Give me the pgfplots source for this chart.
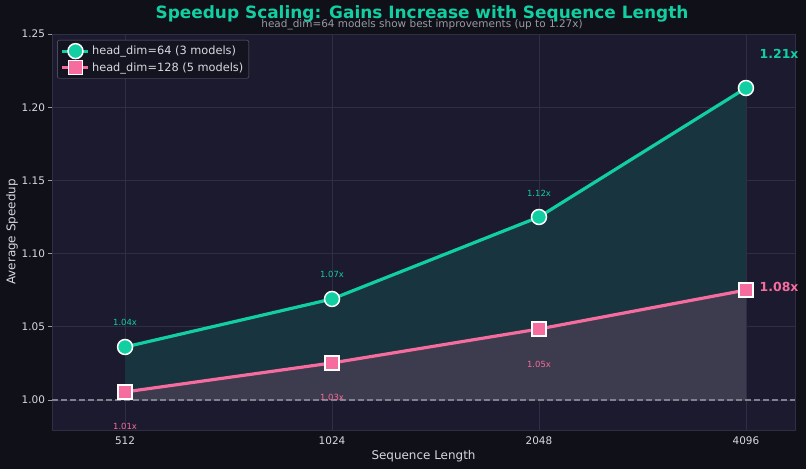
\documentclass[border=0pt]{standalone}
\usepackage{pgfplots}
\pgfplotsset{compat=1.18}
\usepackage{fontspec}
\setmainfont{DejaVu Sans}
\definecolor{figbg}{HTML}{101018}
\definecolor{axbg}{HTML}{1B1A2E}
\definecolor{gridc}{HTML}{2E2E44}
\definecolor{teal}{HTML}{12CFA3}
\definecolor{pinkc}{HTML}{F76C9E}
\definecolor{fillA}{HTML}{17343F}
\definecolor{fillB}{HTML}{3C3C4E}
\definecolor{txt}{HTML}{D8D8E0}
\definecolor{subc}{HTML}{9A9AA6}
\begin{document}
\begin{tikzpicture}
\fill[figbg] (0bp,0bp) rectangle (806bp,469bp);
\node[font=\bfseries\fontsize{17}{20}\selectfont, text=teal, anchor=base] at (422bp,450bp) {Speedup Scaling: Gains Increase with Sequence Length};
\node[font=\fontsize{10.5}{12}\selectfont, text=subc, anchor=base] at (422bp,441bp) {head\_dim=64 models show best improvements (up to 1.27x)};
\begin{axis}[
  at={(52bp,39bp)}, anchor=south west,
  scale only axis, width=743bp, height=396bp,
  xmin=-0.353, xmax=3.237, ymin=0.9795, ymax=1.25,
  axis background/.style={fill=axbg},
  axis line style={draw=gridc, line width=0.6pt},
  xtick={0,1,2,3}, xticklabels={512,1024,2048,4096},
  ytick={1.00,1.05,1.10,1.15,1.20,1.25},
  ytick pos=left,
  yticklabel style={/pgf/number format/.cd, fixed, fixed zerofill, precision=2},
  /pgf/number format/assume math mode=true,
  tick label style={font=\fontsize{10.5}{12}\selectfont, text=txt},
  tick style={draw=subc, line width=0.6pt},
  tick align=outside, major tick length=3.5bp,
  xtick style={draw=none},
  grid=major, major grid style={draw=gridc, line width=0.6pt},
  xlabel={Sequence Length}, ylabel={Average Speedup},
  label style={font=\fontsize{12}{14}\selectfont, text=txt},
  xlabel style={yshift=1bp},
  ylabel style={yshift=-3bp},
  legend style={at={(0.007,0.985)}, anchor=north west, fill=figbg!60!axbg, draw=subc!60!axbg, rounded corners=2pt, text=txt, font=\fontsize{11.4}{13}\selectfont, row sep=2bp, inner sep=3.5bp},
  legend cell align=left,
  legend image code/.code={\draw[mark repeat=2,mark phase=2,#1] plot coordinates {(0bp,0bp)(13bp,0bp)(26bp,0bp)};},
  clip=false
]
\addplot[fill=fillA, draw=none, forget plot] coordinates {(0,1.0) (0,1.0362) (1,1.0690) (2,1.1250) (3,1.2131) (3,1.0)} -- cycle;
\addplot[fill=fillB, draw=none, forget plot] coordinates {(0,1.0) (0,1.0055) (1,1.0253) (2,1.0485) (3,1.0751) (3,1.0)} -- cycle;
\draw[subc!80!axbg, line width=1.5pt, dash pattern=on 6bp off 3bp] (axis cs:-0.353,1.0) -- (axis cs:3.237,1.0);
\addplot[teal, line width=3.2pt, mark=*, mark size=7.5bp, mark options={fill=teal, draw=white, line width=1.5pt}] coordinates {(0,1.0362) (1,1.0690) (2,1.1250) (3,1.2131)};
\addlegendentry{head\_dim=64 (3 models)}
\addplot[pinkc, line width=3.2pt, mark=square*, mark size=7bp, mark options={fill=pinkc, draw=white, line width=1.5pt}] coordinates {(0,1.0055) (1,1.0253) (2,1.0485) (3,1.0751)};
\addlegendentry{head\_dim=128 (5 models)}
\begin{scope}[font=\fontsize{8.5}{10}\selectfont]
\node[text=teal] at (axis cs:0,1.0527) {1.04x};
\node[text=teal] at (axis cs:1,1.0857) {1.07x};
\node[text=teal] at (axis cs:2,1.1410) {1.12x};
\node[text=pinkc] at (axis cs:0,0.9822) {1.01x};
\node[text=pinkc] at (axis cs:1,1.0020) {1.03x};
\node[text=pinkc] at (axis cs:2,1.0245) {1.05x};
\end{scope}
\node[text=teal, font=\bfseries\fontsize{12.5}{14}\selectfont] at (axis cs:3.16,1.2365) {1.21x};
\node[text=pinkc, font=\bfseries\fontsize{12.5}{14}\selectfont] at (axis cs:3.16,1.0775) {1.08x};
\end{axis}
\pgfresetboundingbox
\path[use as bounding box] (0bp,0bp) rectangle (806bp,469bp);
\end{tikzpicture}
\end{document}
